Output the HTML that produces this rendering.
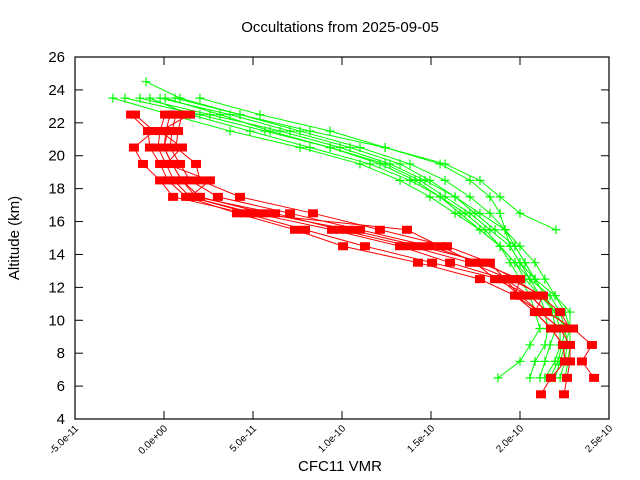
<!DOCTYPE html>
<html><head><meta charset="utf-8"><style>
html,body{margin:0;padding:0;background:#fff;}
svg{display:block;font-family:"Liberation Sans",sans-serif;}
</style></head><body>
<svg id="chart" width="640" height="480" viewBox="0 0 640 480">
<text x="340" y="32" text-anchor="middle" font-size="15">Occultations from 2025-09-05</text>
<text x="19" y="238" text-anchor="middle" font-size="15" transform="rotate(-90 19 238)">Altitude (km)</text>
<text x="340" y="471" text-anchor="middle" font-size="15">CFC11 VMR</text>
<g id="grid"></g>
<g id="series"></g>
<rect x="75" y="57" width="534" height="362" fill="none" stroke="#000" stroke-width="1.2"/>
</svg>
<script>
// x values in units of 1e-11 VMR
const xTicks = [-5, 0, 5, 10, 15, 20, 25];
const xTickLabels = ["-5.0e-11","0.0e+00","5.0e-11","1.0e-10","1.5e-10","2.0e-10","2.5e-10"];
const yTicks = [4,6,8,10,12,14,16,18,20,22,24,26];
const redAlts = [22.5,21.5,20.5,19.5,18.5,17.5,16.5,15.5,14.5,13.5,12.5,11.5,10.5,9.5,8.5,7.5,6.5,5.5];
const redAlts8 = [21.5,20.5,19.5,18.5,17.5,16.5,15.5,14.5,13.5,12.5,11.5,10.5,9.5];
const red1 = [-1.85,-0.90,-0.79,-0.22,0.22,1.24,4.10,7.36,10.06,14.27,17.75,19.72,20.84,21.74,22.42,22.53,21.74,21.18];
const red2 = [-1.63,-0.56,-1.69,-1.18,-0.22,0.51,4.55,7.92,11.29,15.06,18.88,20.0,21.12,22.25,22.81,22.81,22.64,22.47];
const red3 = [0.06,-0.22,-0.34,0.11,0.56,1.46,5.11,9.44,13.26,16.07,19.16,20.56,21.52,22.98,24.04,23.48,24.16];
const red4 = [0.34,0.11,0.0,0.45,1.01,1.80,6.24,9.89,13.82,17.19,19.44,21.29,20.84,21.74,22.42,22.53];
const red5 = [0.67,0.45,0.34,0.90,1.46,3.03,7.08,11.01,14.94,17.75,20.0,19.72,21.12,22.25];
const red6 = [1.01,0.79,0.67,1.80,2.02,4.27,8.37,12.13,15.90,18.31,19.16,20.0];
const red7 = [1.46,-0.22,1.01,0.11,2.58,1.46,4.83,13.65,15.51,17.47,18.6,20.56,21.52,22.98];
const red8 = [0.22,0.0,0.45,1.01,2.02,5.67,10.45,14.38,18.03,19.72,21.12,22.25,22.81];
const greenAlts = [23.5,22.5,21.5,20.5,19.5,18.5,17.5,16.5,15.5,14.5,13.5,12.5,11.5,10.5,9.5,8.5,7.5,6.5];
const greenAlts9 = [24.5,23.5,22.5,21.5,20.5,19.5,18.5,17.5,16.5,15.5];
const green1 = [-2.87,0.34,3.71,7.64,11.01,13.26,14.94,16.35,17.75,18.88,19.44,20.0,20.56,20.84,21.12,20.56,20.0,18.76];
const green2 = [-2.19,2.02,5.67,9.33,12.42,14.38,15.79,17.19,18.31,19.44,20.0,20.56,21.12,21.4,21.57,21.4,20.84,20.56];
const green3 = [-1.35,2.58,6.52,9.89,12.70,14.66,16.35,17.47,18.6,19.72,20.28,20.84,21.4,21.97,22.25,22.25,21.97,21.4];
const green4 = [-0.79,1.46,4.83,8.2,11.57,13.82,15.51,16.91,18.03,18.88,19.72,20.28,21.12,21.97,22.53,22.64,22.53,22.25];
const green5 = [-0.22,3.71,7.08,10.45,13.26,14.94,16.35,17.75,19.16,20.0,20.84,21.4,21.97,22.53,22.81,22.81,22.7,22.53];
const green6 = [0.62,4.27,7.64,11.01,13.82,15.79,17.19,18.31,19.16,19.72,20.28,20.84,21.4,21.8,22.02,21.69,21.4,21.12];
const green7 = [2.02,5.39,9.33,12.42,15.51,17.19,18.31,18.88,19.16,19.44,20.0,20.84,21.97,22.81,22.81,22.53,22.25,21.97];
const green8 = [0.06,3.15,5.96,9.33,12.13,14.1,15.51,16.63,17.75,18.88,19.72,20.56,21.69,22.25,22.53,22.36,22.13,21.69];
const green9 = [-1.01,0.9,4.27,8.2,12.42,15.79,17.75,18.88,20.0,22.02];

const NS = "http://www.w3.org/2000/svg";
const X0 = 75, X1 = 609, Y0 = 419, Y1 = 57;
function xScale(v){ return X0 + (v - (-5)) / 30 * (X1 - X0); }
function yScale(a){ return Y0 - (a - 4) / 22 * (Y0 - Y1); }
function mk(tag, attrs, parent){ const e = document.createElementNS(NS, tag); for (const k in attrs) e.setAttribute(k, attrs[k]); parent.appendChild(e); return e; }

const grid = document.getElementById('grid');
yTicks.forEach(t => {
  const y = yScale(t);
  const l = mk('line', {x1:X0, x2:X0+8, y1:y, y2:y, stroke:'#000'}, grid);
  
  
  const r = mk('line', {x1:X1-8, x2:X1, y1:y, y2:y, stroke:'#000'}, grid);
  
  
  const tx = mk('text', {x:X0-10, y:y+5, 'text-anchor':'end', 'font-size':15}, grid);
  tx.textContent = t;
  
  
});
xTicks.forEach((t, i) => {
  const x = xScale(t);
  const l = mk('line', {x1:x, x2:x, y1:Y0, y2:Y0-8, stroke:'#000'}, grid);
  
  
  const u = mk('line', {x1:x, x2:x, y1:Y1, y2:Y1+8, stroke:'#000'}, grid);
  
  
  const tx = mk('text', {x:x+4, y:Y0+10, 'text-anchor':'end', 'font-size':10, transform:`rotate(-45 ${x+4} ${Y0+10})`}, grid);
  tx.textContent = xTickLabels[i];
  
  
});

const series = document.getElementById('series');
function drawSeries(vals, alts, color, kind, name){
  const g = mk('g', {}, series);
  
  
  const pts = vals.map((v, i) => [xScale(v), yScale(alts[i])]);
  const pl = mk('polyline', {points: pts.map(p => p.join(',')).join(' '), fill:'none', stroke:color, 'stroke-width':1}, g);
  
  
  pts.forEach(p => {
    if (kind === 'square') {
      const r = mk('rect', {x:p[0]-5, y:p[1]-4, width:10, height:8, fill:color}, g);
      
      
    } else {
      const c = mk('path', {d:`M${p[0]-4.5},${p[1]}h9M${p[0]},${p[1]-4.5}v9`, stroke:color, 'stroke-width':1.2}, g);
      
      
    }
  });
}
const G = '#00ff00', R = '#ff0000';
drawSeries(green1, greenAlts, G, 'plus', 'green-profile-1');
drawSeries(green2, greenAlts, G, 'plus', 'green-profile-2');
drawSeries(green3, greenAlts, G, 'plus', 'green-profile-3');
drawSeries(green4, greenAlts, G, 'plus', 'green-profile-4');
drawSeries(green5, greenAlts, G, 'plus', 'green-profile-5');
drawSeries(green6, greenAlts, G, 'plus', 'green-profile-6');
drawSeries(green7, greenAlts, G, 'plus', 'green-profile-7');
drawSeries(green8, greenAlts, G, 'plus', 'green-profile-8');
drawSeries(green9, greenAlts9, G, 'plus', 'green-profile-9');
drawSeries(red1, redAlts, R, 'square', 'red-profile-1');
drawSeries(red2, redAlts, R, 'square', 'red-profile-2');
drawSeries(red3, redAlts, R, 'square', 'red-profile-3');
drawSeries(red4, redAlts, R, 'square', 'red-profile-4');
drawSeries(red5, redAlts, R, 'square', 'red-profile-5');
drawSeries(red6, redAlts, R, 'square', 'red-profile-6');
drawSeries(red7, redAlts, R, 'square', 'red-profile-7');
drawSeries(red8, redAlts8, R, 'square', 'red-profile-8');
</script>
</body></html>
